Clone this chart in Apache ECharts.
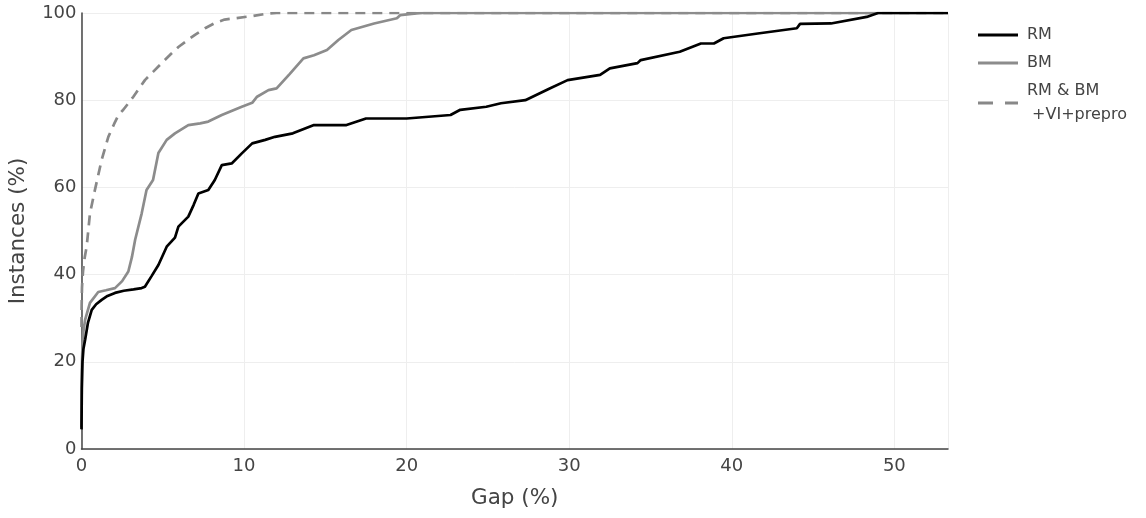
<!DOCTYPE html>
<html>
<head>
<meta charset="utf-8">
<script src="https://cdn.jsdelivr.net/npm/echarts@6/dist/echarts.min.js"></script>
<style>html,body{margin:0;padding:0;background:#fff}#c{width:1146px;height:518px}</style>
</head>
<body>
<div id="c"></div>
<script>
const seriesNames = ['RM', 'BM', 'RM & BM\n +VI+prepro'];
const xTicks = [0, 10, 20, 30, 40, 50];
const yTicks = [0, 20, 40, 60, 80, 100];

const rmGap = [0, 0.02, 0.06, 0.12, 0.22, 0.4, 0.63, 0.9, 1.24, 1.6, 2.06, 2.6, 3.2, 3.7, 3.9, 4.3, 4.73, 5.24, 5.75, 5.96, 6.57, 6.9, 7.19, 7.8, 8.2, 8.63, 9.24, 9.86, 10.5, 11.3, 11.9, 13.0, 14.3, 16.3, 17.5, 20.0, 22.7, 23.3, 24.9, 25.8, 27.3, 28.8, 29.9, 31.9, 32.5, 34.2, 34.4, 36.8, 38.1, 38.9, 39.5, 41.6, 44.0, 44.2, 46.1, 48.3, 48.6, 49.0, 53.3];
const rmInst = [4.5, 14, 20, 23, 25, 29, 31.9, 33.2, 34.2, 35.1, 35.8, 36.3, 36.6, 36.9, 37.2, 39.6, 42.2, 46.4, 48.5, 51, 53.3, 56, 58.6, 59.4, 61.7, 65.1, 65.5, 67.8, 70.1, 70.9, 71.6, 72.4, 74.3, 74.3, 75.8, 75.8, 76.6, 77.8, 78.5, 79.3, 80.0, 82.7, 84.6, 85.8, 87.3, 88.5, 89.2, 91.1, 93.0, 93.0, 94.2, 95.3, 96.5, 97.5, 97.6, 99.1, 99.5, 100, 100];

const bmGap = [0, 0.02, 0.06, 0.12, 0.22, 0.52, 1.03, 1.5, 2.06, 2.5, 2.88, 3.1, 3.3, 3.7, 4.0, 4.4, 4.73, 5.24, 5.75, 6.57, 7.3, 7.8, 8.63, 9.86, 10.5, 10.8, 11.5, 12.0, 12.8, 13.65, 14.3, 15.1, 15.8, 16.6, 18.0, 19.4, 19.6, 20.6, 21.0, 53.3];
const bmInst = [5, 18, 24, 27, 29.6, 33.5, 36, 36.4, 36.9, 38.5, 40.7, 44, 48, 54, 59.4, 61.7, 67.9, 70.9, 72.4, 74.3, 74.7, 75.1, 76.6, 78.5, 79.4, 80.8, 82.3, 82.7, 86, 89.6, 90.3, 91.5, 93.8, 96.1, 97.6, 98.8, 99.5, 99.9, 100, 100];

const vpGap = [0, 0.01, 0.03, 0.06, 0.1, 0.2, 0.32, 0.52, 0.83, 1.24, 1.65, 2.0, 2.27, 2.57, 3.19, 3.9, 4.4, 4.93, 5.5, 5.96, 6.5, 6.98, 7.6, 8.2, 8.8, 9.45, 10.5, 11.5, 12.0, 53.3];
const vpInst = [28, 33, 37, 39, 41, 44, 46.5, 54, 59.5, 66.3, 71.6, 74.5, 76.6, 77.8, 80.8, 84.6, 86.5, 88.5, 90.6, 92.2, 93.7, 95, 96.5, 97.7, 98.5, 98.8, 99.3, 99.9, 100, 100];

const zip = (a, b) => a.map((v, i) => [v, b[i]]);
const FONT = 'DejaVu Sans';
const solidIcon = 'path://M0,0L40,0L40,3L0,3Z';
const dashIcon = 'path://M0,0L15,0L15,3L0,3ZM27,0L40,0L40,3L27,3Z';

const chart = echarts.init(document.getElementById('c'), null, {renderer: 'canvas'});
chart.setOption({
  animation: false,
  backgroundColor: '#fff',
  textStyle: {fontFamily: FONT},
  grid: {left: 81.5, right: 198, top: 13, bottom: 69, containLabel: false, outerBoundsMode: 'none'},
  legend: {
    orient: 'vertical',
    left: 973,
    top: 18,
    itemWidth: 40,
    itemHeight: 14,
    itemGap: 4,
    textStyle: {fontFamily: FONT, fontSize: 16, color: '#444', lineHeight: 24, padding: [0, 0, 0, 4]},
    data: [
      {name: seriesNames[0], icon: solidIcon},
      {name: seriesNames[1], icon: solidIcon},
      {name: seriesNames[2], icon: dashIcon}
    ]
  },
  xAxis: {
    type: 'value',
    min: 0,
    max: 53.3,
    interval: 10,
    name: 'Gap (%)',
    nameLocation: 'middle',
    nameGap: 38,
    nameTextStyle: {fontFamily: FONT, fontSize: 21.5, color: '#444'},
    axisLine: {show: true, onZero: false, lineStyle: {color: '#444', width: 1.5}},
    axisTick: {show: false},
    axisLabel: {
      fontFamily: FONT, fontSize: 18, color: '#444', margin: 8,
      showMaxLabel: false,
      formatter: v => (xTicks.indexOf(v) >= 0 ? String(v) : '')
    },
    splitLine: {show: true, lineStyle: {color: '#eee', width: 1}}
  },
  yAxis: {
    type: 'value',
    min: 0,
    max: 100,
    interval: 20,
    name: 'Instances (%)',
    nameLocation: 'middle',
    nameGap: 52,
    nameTextStyle: {fontFamily: FONT, fontSize: 21.5, color: '#444'},
    axisLine: {show: true, lineStyle: {color: '#444', width: 1.5}},
    axisTick: {show: false},
    axisLabel: {
      fontFamily: FONT, fontSize: 18, color: '#444', margin: 5,
      formatter: v => (yTicks.indexOf(v) >= 0 ? String(v) : '')
    },
    splitLine: {show: true, lineStyle: {color: '#eee', width: 1}}
  },
  series: [
    {
      name: seriesNames[2],
      type: 'line',
      data: zip(vpGap, vpInst),
      symbol: 'none',
      z: 1,
      lineStyle: {color: '#888', width: 2.7, type: [10, 7]},
      itemStyle: {color: '#888'}
    },
    {
      name: seriesNames[1],
      type: 'line',
      data: zip(bmGap, bmInst),
      symbol: 'none',
      z: 2,
      lineStyle: {color: '#8c8c8c', width: 2.7},
      itemStyle: {color: '#8c8c8c'}
    },
    {
      name: seriesNames[0],
      type: 'line',
      data: zip(rmGap, rmInst),
      symbol: 'none',
      z: 3,
      lineStyle: {color: '#000', width: 2.7},
      itemStyle: {color: '#000'}
    }
  ]
});
</script>
</body>
</html>
